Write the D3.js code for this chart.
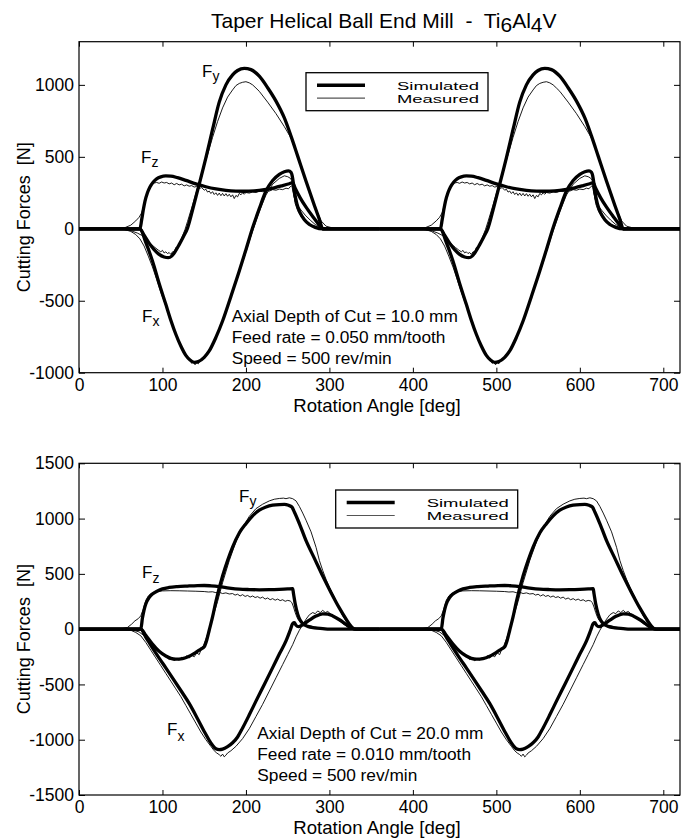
<!DOCTYPE html>
<html><head><meta charset="utf-8">
<script src="https://cdn.jsdelivr.net/npm/d3@7/dist/d3.min.js"></script>
<style>
body{margin:0;background:#fff}
text{font-family:"Liberation Sans",Arial,Helvetica,sans-serif;fill:#000}
</style>
</head><body>
<svg id="c" width="682" height="840"></svg>
<script>
// ---------- shared ----------
const revolutions = [0, 360];               // the per-revolution profile is shown for two spindle revolutions
const xTicks = [0, 100, 200, 300, 400, 500, 600, 700];
const topYTicks = [-1000, -500, 0, 500, 1000];
const botYTicks = [-1500, -1000, -500, 0, 500, 1000, 1500];
const legendLabels = ["Simulated", "Measured"];

// ---------- top panel: depth 10 mm, feed 0.050 ----------
const topSimFx = [[0,0],[73,0],[80,-95],[88,-224],[96,-380],[104,-525],[110,-635],[116,-733],[122,-815],[128,-880],[133,-912],[138,-928],[143,-922],[150,-893],[156,-849],[164,-755],[172,-641],[182,-470],[192,-294],[200,-145],[208,7],[216,140],[224,262],[232,335],[240,378],[246,396],[251,402],[254,392],[256,350],[258,260],[261,175],[265,110],[270,62],[276,30],[283,10],[292,0],[360,0]];
const topMeasFx = [[0,0],[45,-2],[55,-6],[62,-18],[68,-40],[73,-70],[78,-120],[83,-190],[88,-265],[93,-350],[98,-440],[102,-505],[106,-570],[110,-640],[113,-690],[116,-735],[119,-780],[121,-800],[123,-835],[125,-850],[127,-870],[129,-885],[131,-905],[133,-915],[135,-935],[137,-925],[139,-945],[141,-930],[143,-938],[145,-915],[148,-900],[151,-880],[156,-842],[164,-752],[172,-640],[182,-475],[192,-305],[200,-160],[208,-15],[216,120],[224,235],[232,310],[240,350],[246,368],[250,362],[253,352],[255,335],[257,250],[259,175],[262,125],[266,85],[272,48],[280,22],[290,6],[300,0],[360,0]];
const topSimFy = [[0,0],[73,0],[78,-45],[84,-100],[90,-145],[96,-178],[102,-196],[107,-201],[111,-190],[115,-160],[120,-110],[125,-55],[130,5],[136,130],[142,265],[152,493],[160,690],[168,880],[176,1000],[184,1070],[190,1100],[198,1115],[206,1106],[216,1060],[226,980],[236,887],[246,770],[254,644],[262,505],[272,331],[282,162],[288,65],[292,0],[360,0]];
const topMeasFy = [[0,0],[45,-2],[55,-6],[63,-15],[70,-30],[75,-45],[80,-70],[86,-105],[91,-130],[95,-148],[98,-160],[100,-150],[102,-168],[104,-160],[106,-172],[108,-165],[110,-178],[112,-160],[114,-162],[116,-130],[118,-128],[121,-95],[124,-50],[127,-5],[130,50],[136,165],[142,285],[148,400],[154,515],[160,635],[166,745],[172,840],[178,915],[184,965],[188,995],[192,1010],[196,1018],[200,1022],[204,1014],[208,1000],[212,978],[216,955],[226,880],[236,800],[246,710],[254,630],[262,500],[272,330],[282,165],[290,55],[296,18],[305,4],[315,0],[360,0]];
const topSimFz = [[0,0],[73,0],[75,60],[77,130],[79,190],[82,250],[85,290],[89,325],[93,347],[98,361],[104,367],[110,366],[118,355],[128,336],[140,312],[152,292],[164,277],[176,267],[188,262],[198,261],[210,264],[222,272],[234,285],[244,300],[252,313],[256,320],[259,282],[265,215],[272,150],[280,85],[287,32],[292,0],[360,0]];
const topMeasFz = [[0,0],[45,2],[55,8],[62,25],[68,55],[72,80],[75,110],[78,170],[81,240],[84,285],[87,305],[90,318],[93,322],[96,316],[99,325],[102,318],[105,322],[108,312],[111,318],[114,306],[117,315],[120,305],[123,310],[126,298],[129,305],[132,296],[135,300],[138,290],[141,294],[144,280],[147,286],[150,268],[152,275],[154,255],[156,262],[158,245],[160,258],[162,238],[164,250],[166,232],[168,248],[170,230],[172,246],[174,228],[176,244],[178,226],[180,240],[182,222],[184,236],[186,210],[188,232],[190,222],[192,246],[194,236],[196,250],[198,240],[200,252],[204,248],[208,256],[212,252],[216,262],[220,258],[224,266],[228,262],[232,272],[236,268],[240,276],[244,272],[248,282],[251,278],[253,292],[255,300],[257,240],[259,190],[262,160],[266,130],[271,95],[277,60],[283,30],[289,12],[296,4],[305,0],[360,0]];

// ---------- bottom panel: depth 20 mm, feed 0.010 ----------
const botSimFx = [[0,0],[74,0],[80,-72],[88,-170],[96,-262],[104,-350],[112,-440],[122,-555],[132,-672],[142,-810],[150,-925],[156,-1005],[160,-1050],[164,-1082],[168,-1090],[172,-1085],[178,-1062],[184,-1028],[190,-975],[196,-894],[204,-775],[212,-651],[222,-500],[232,-348],[240,-225],[248,-106],[253,-10],[256,50],[258,58],[260,35],[263,22],[268,40],[276,82],[284,118],[292,138],[298,136],[304,120],[312,85],[320,42],[326,12],[332,0],[360,0]];
const botMeasFx = [[0,0],[55,-3],[62,-10],[68,-30],[74,-60],[80,-120],[86,-190],[92,-260],[98,-330],[104,-400],[110,-470],[116,-540],[122,-610],[128,-690],[134,-770],[140,-850],[146,-930],[152,-1000],[158,-1060],[162,-1100],[165,-1120],[168,-1135],[170,-1150],[172,-1130],[174,-1155],[176,-1140],[178,-1120],[182,-1100],[188,-1060],[196,-990],[204,-900],[212,-790],[220,-680],[228,-560],[236,-440],[244,-320],[250,-230],[256,-140],[260,-70],[264,-10],[268,40],[272,90],[276,130],[280,150],[283,140],[286,165],[289,150],[292,170],[295,150],[298,160],[301,140],[305,120],[310,90],[316,50],[322,20],[328,5],[335,0],[360,0]];
const botSimFy = [[0,0],[74,0],[80,-55],[88,-135],[96,-200],[104,-243],[110,-264],[116,-272],[124,-266],[132,-245],[140,-210],[146,-180],[150,-160],[153,-100],[156,-10],[160,110],[164,250],[172,480],[178,620],[184,742],[192,870],[200,954],[208,1025],[216,1076],[224,1105],[232,1121],[240,1127],[246,1128],[251,1120],[255,1105],[258,1060],[264,955],[272,800],[282,640],[292,480],[302,330],[312,190],[320,90],[326,25],[330,0],[360,0]];
const botMeasFy = [[0,0],[55,-3],[65,-10],[72,-25],[78,-60],[84,-110],[90,-160],[96,-200],[100,-230],[104,-245],[108,-275],[111,-260],[114,-285],[117,-270],[120,-280],[123,-255],[126,-270],[129,-240],[132,-262],[135,-235],[138,-250],[141,-215],[144,-230],[146,-190],[149,-150],[152,-90],[156,0],[160,100],[166,250],[172,420],[180,620],[188,790],[196,920],[204,1020],[212,1090],[220,1130],[228,1160],[234,1175],[240,1182],[245,1185],[248,1180],[252,1188],[256,1180],[260,1160],[264,1110],[268,1050],[272,985],[278,880],[284,740],[288,621],[292,530],[296,450],[300,379],[306,290],[311,197],[316,120],[321,60],[326,20],[332,5],[340,0],[360,0]];
const botSimFz = [[0,0],[74,0],[76,100],[78,175],[80,227],[84,285],[88,318],[94,345],[100,364],[108,377],[118,385],[130,390],[142,394],[150,395],[158,392],[168,385],[180,372],[192,362],[204,358],[216,356],[228,357],[240,360],[250,364],[256,366],[257,320],[259,230],[262,136],[265,80],[268,50],[274,25],[282,12],[292,5],[300,0],[360,0]];
const botMeasFz = [[0,0],[50,3],[58,15],[63,45],[67,75],[71,95],[74,120],[77,180],[80,260],[83,300],[86,320],[90,335],[95,342],[100,346],[110,348],[120,347],[130,345],[140,343],[150,340],[155,336],[160,338],[164,330],[168,334],[172,322],[176,328],[180,318],[184,322],[187,308],[190,316],[193,300],[196,312],[199,296],[202,305],[205,290],[208,300],[211,286],[214,294],[217,280],[220,290],[223,272],[226,282],[229,266],[232,276],[235,262],[238,272],[241,258],[244,266],[247,252],[250,260],[253,255],[255,240],[257,200],[259,150],[261,110],[263,80],[266,60],[270,40],[276,30],[282,20],[290,10],[300,3],[310,0],[360,0]];

// ---------- drawing ----------
const svg = d3.select("#c");
const FONT = '"Liberation Sans",Arial,Helvetica,sans-serif';
const plain = d => String(d);   // "1000", "-500" as in the reference

svg.append("text").attr("x", 211).attr("y", 28.3).attr("font-size", 21)
  .style("white-space", "pre")
  .call(t => {
    t.append("tspan").text("Taper Helical Ball End Mill  -  Ti");
    t.append("tspan").attr("dy", 4).text("6");
    t.append("tspan").attr("dy", -4).text("Al");
    t.append("tspan").attr("dy", 4).text("4");
    t.append("tspan").attr("dy", -4).text("V");
  });

function panel(cfg) {
  const x = d3.scaleLinear().domain([0, 720]).range([79, 680]);
  const y = d3.scaleLinear().domain(cfg.yDomain).range([cfg.bottom, cfg.top]);
  const g = svg.append("g");

  const sim = d3.line().x(d => x(d[0])).y(d => y(d[1])).curve(d3.curveMonotoneX);
  const meas = d3.line().x(d => x(d[0])).y(d => y(d[1]));

  revolutions.forEach(off => {
    cfg.measured.forEach(s => {
      g.append("path").datum(s.map(d => [d[0] + off, d[1]])).attr("d", meas)
        .attr("fill", "none").attr("stroke", "#000").attr("stroke-width", 0.9).attr("stroke-linejoin", "round");
    });
    cfg.simulated.forEach(s => {
      g.append("path").datum(s.map(d => [d[0] + off, d[1]])).attr("d", sim)
        .attr("fill", "none").attr("stroke", "#000").attr("stroke-width", 3.3).attr("stroke-linejoin", "round");
    });
  });

  // axes
  const ax = (gen, tr) => g.append("g").attr("transform", tr).call(gen).call(a => a.select(".domain").remove());
  const xb = ax(d3.axisBottom(x).tickValues(xTicks).tickFormat(plain).tickSizeInner(-5).tickSizeOuter(0).tickPadding(6), `translate(0,${cfg.bottom})`);
  ax(d3.axisTop(x).tickValues(xTicks).tickSizeInner(-5).tickSizeOuter(0).tickFormat(""), `translate(0,${cfg.top})`);
  const yl = ax(d3.axisLeft(y).tickValues(cfg.yTicks).tickFormat(plain).tickSizeInner(-6).tickSizeOuter(0).tickPadding(5), `translate(79,0)`);
  ax(d3.axisRight(y).tickValues(cfg.yTicks).tickSizeInner(-6).tickSizeOuter(0).tickFormat(""), `translate(680,0)`);
  g.selectAll(".tick line").attr("stroke", "#000").attr("stroke-width", 1);
  [xb, yl].forEach(a => a.selectAll("text").attr("font-size", 17.5).attr("font-family", FONT).attr("fill", "#000"));

  g.append("rect").attr("x", 79).attr("y", cfg.top).attr("width", 601).attr("height", cfg.bottom - cfg.top)
    .attr("fill", "none").attr("stroke", "#000").attr("stroke-width", 1.2);

  // axis titles
  g.append("text").attr("x", 377).attr("y", cfg.bottom + 39).attr("text-anchor", "middle").attr("font-size", 18.6)
    .text("Rotation Angle [deg]");
  const cy = (cfg.top + cfg.bottom) / 2 + cfg.ylabShift;
  g.append("text").attr("transform", `translate(30,${cy}) rotate(-90)`).attr("text-anchor", "middle")
    .attr("font-size", 18).style("white-space", "pre").text("Cutting Forces  [N]");

  // legend
  const L = cfg.legend;
  g.append("rect").attr("x", L.x).attr("y", L.y).attr("width", 182).attr("height", 38)
    .attr("fill", "#fff").attr("stroke", "#000").attr("stroke-width", 1.3);
  g.append("line").attr("x1", L.x + 11).attr("x2", L.x + 59).attr("y1", L.y + 12.5).attr("y2", L.y + 12.5)
    .attr("stroke", "#000").attr("stroke-width", 3.5);
  g.append("line").attr("x1", L.x + 11).attr("x2", L.x + 59).attr("y1", L.y + 25.5).attr("y2", L.y + 25.5)
    .attr("stroke", "#555").attr("stroke-width", 1.2);
  legendLabels.forEach((lab, i) => {
    g.append("text").attr("x", L.x + 91).attr("y", L.y + 16.8 + i * 13.6).attr("font-size", 11.7)
      .attr("textLength", 82).attr("lengthAdjust", "spacingAndGlyphs").text(lab);
  });

  // force labels
  cfg.forceLabels.forEach(f => {
    const t = g.append("text").attr("x", f.x).attr("y", f.y).attr("font-size", 17);
    t.append("tspan").text("F");
    t.append("tspan").attr("dy", f.sub).attr("font-size", 14).text(f.s);
  });

  // annotation
  cfg.notes.forEach((n, i) => {
    g.append("text").attr("x", cfg.noteX).attr("y", cfg.noteY + i * 21.2).attr("font-size", 17.3).text(n);
  });
}

panel({
  top: 41.7, bottom: 372.7, yDomain: [-1000, 1300], yTicks: topYTicks, ylabShift: 10,
  simulated: [topSimFx, topSimFy, topSimFz], measured: [topMeasFx, topMeasFy, topMeasFz],
  legend: {x: 306, y: 72.7},
  forceLabels: [{x: 202, y: 77, s: "y", sub: 4}, {x: 141, y: 163, s: "z", sub: 4}, {x: 142, y: 322, s: "x", sub: 4}],
  notes: ["Axial Depth of Cut = 10.0 mm", "Feed rate = 0.050 mm/tooth", "Speed = 500 rev/min"],
  noteX: 231.7, noteY: 322
});
panel({
  top: 463.3, bottom: 795, yDomain: [-1500, 1500], yTicks: botYTicks, ylabShift: 10,
  simulated: [botSimFx, botSimFy, botSimFz], measured: [botMeasFx, botMeasFy, botMeasFz],
  legend: {x: 335.7, y: 490},
  forceLabels: [{x: 239, y: 502, s: "y", sub: 4}, {x: 142, y: 578, s: "z", sub: 5}, {x: 167, y: 735, s: "x", sub: 6}],
  notes: ["Axial Depth of Cut = 20.0 mm", "Feed rate = 0.010 mm/tooth", "Speed = 500 rev/min"],
  noteX: 257.3, noteY: 739
});
</script>
</body></html>
